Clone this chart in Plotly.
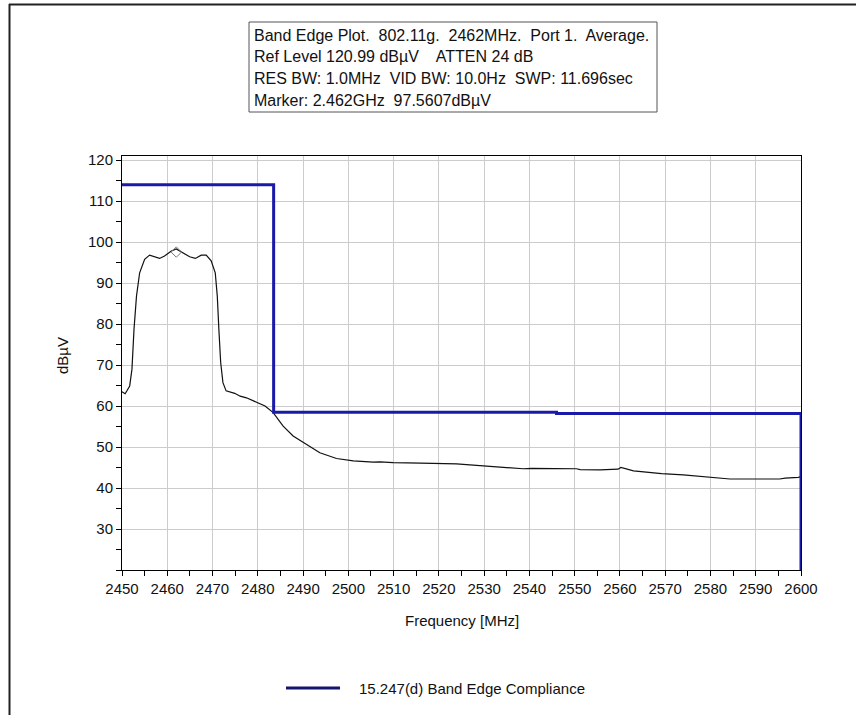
import plotly.graph_objects as go

# Measured trace (frequency in MHz, level in dBuV)
freq_mhz = [2450.0, 2450.7, 2451.7, 2452.2, 2452.65, 2453.2, 2453.9, 2455.0, 2456.1,
            2457.2, 2458.3, 2459.4, 2460.9, 2462.0, 2463.5, 2464.95, 2466.2, 2467.5,
            2468.6, 2469.7, 2470.6, 2471.05, 2471.4, 2471.8, 2472.3, 2473.0, 2474.9,
            2476.1, 2477.5, 2479.0, 2481.6, 2483.4, 2485.6, 2487.8, 2490.8, 2493.7,
            2497.4, 2501.1, 2505.5, 2507.0, 2509.9, 2515.8, 2516.0, 2523.9, 2528.7,
            2535.3, 2538.6, 2540.5, 2550.4, 2551.2, 2555.6, 2559.6, 2560.2, 2563.0,
            2565.9, 2569.2, 2574.0, 2578.8, 2581.7, 2584.3, 2595.3, 2596.5, 2599.4,
            2600.0]
level_dbuv = [63.5, 63.0, 64.9, 69.0, 78.7, 86.8, 92.5, 95.8, 96.8,
              96.4, 96.0, 96.6, 97.8, 98.3, 97.4, 96.4, 96.0, 96.8,
              96.8, 95.4, 92.5, 86.8, 78.7, 70.6, 65.7, 63.7, 63.1,
              62.4, 62.0, 61.2, 60.0, 58.4, 55.1, 52.7, 50.7, 48.6,
              47.2, 46.6, 46.3, 46.4, 46.2, 46.2, 46.05, 45.9, 45.5,
              45.1, 44.7, 44.8, 44.7, 44.5, 44.4, 44.6, 45.0, 44.2,
              43.9, 43.5, 43.2, 42.8, 42.4, 42.2, 42.2, 42.4, 42.6,
              42.8]

# 15.247(d) band edge limit
limit_freq = [2450.0, 2483.5, 2483.5, 2546.0, 2546.0, 2600.0, 2600.0]
limit_level = [114.0, 114.0, 58.5, 58.5, 58.2, 58.2, 20.0]

# Marker
marker_freq = [2462.0]
marker_level = [97.5607]

header_lines = [
    "Band Edge Plot.  802.11g.  2462MHz.  Port 1.  Average.",
    "Ref Level 120.99 dBµV    ATTEN 24 dB",
    "RES BW: 1.0MHz  VID BW: 10.0Hz  SWP: 11.696sec",
    "Marker: 2.462GHz  97.5607dBµV",
]
legend_label = "15.247(d) Band Edge Compliance"

x_ticks = list(range(2450, 2601, 10))
y_ticks = list(range(30, 121, 10))

W, H = 856, 715
L, R, T, B = 122, 801, 156, 570
FONT = "Liberation Sans, Arial, sans-serif"
LIMIT_COLOR = "#1a1aa8"


def px(x):
    return (x - L) / (R - L)


def py(y):
    return (B - y) / (B - T)


fig = go.Figure()
fig.add_trace(go.Scatter(x=freq_mhz, y=level_dbuv, mode="lines",
                         line=dict(color="#111111", width=1.2), showlegend=False,
                         hoverinfo="skip"))
fig.add_trace(go.Scatter(x=limit_freq, y=limit_level, mode="lines",
                         line=dict(color=LIMIT_COLOR, width=3), showlegend=False,
                         name=legend_label))
fig.add_trace(go.Scatter(x=marker_freq, y=marker_level, mode="markers",
                         marker=dict(symbol="diamond-open", size=8,
                                     color="#777777", line=dict(width=1)),
                         showlegend=False))

axis_common = dict(
    showline=True, linecolor="black", linewidth=1, mirror=True,
    ticks="outside", ticklen=5, tickcolor="black",
    showgrid=True, gridcolor="#cccccc", gridwidth=1,
    zeroline=False,
    tickfont=dict(family=FONT, size=15, color="#111111"),
)

fig.update_xaxes(range=[2450, 2600], tickvals=x_ticks,
                 minor=dict(dtick=5, ticks="outside", ticklen=5,
                            tickcolor="black", showgrid=False),
                 **axis_common)
fig.update_yaxes(range=[20, 120.99], tickvals=y_ticks,
                 minor=dict(dtick=5, ticks="outside", ticklen=5,
                            tickcolor="black", showgrid=False),
                 **axis_common)

shapes = [
    # outer frame (top and left edges)
    dict(type="line", xref="paper", yref="paper", x0=px(9), x1=px(W), y0=py(4.5), y1=py(4.5),
         line=dict(color="#222222", width=2)),
    dict(type="line", xref="paper", yref="paper", x0=px(9.5), x1=px(9.5), y0=py(4), y1=py(H),
         line=dict(color="#222222", width=2)),
    # header box
    dict(type="rect", xref="paper", yref="paper", x0=px(249), x1=px(657), y0=py(22), y1=py(112),
         line=dict(color="#555555", width=1), fillcolor="white"),
    # legend sample line
    dict(type="line", xref="paper", yref="paper", x0=px(286), x1=px(340), y0=py(688), y1=py(688),
         line=dict(color="#14146e", width=3)),
]

annotations = []
for i, line in enumerate(header_lines):
    annotations.append(dict(
        text=line, xref="paper", yref="paper", x=px(252), y=py(35 + 21.7 * i),
        xanchor="left", yanchor="middle", showarrow=False,
        font=dict(family=FONT, size=16, color="#111111")))

annotations += [
    dict(text="Frequency [MHz]", xref="paper", yref="paper", x=px(462), y=py(620),
         xanchor="center", yanchor="middle", showarrow=False,
         font=dict(family=FONT, size=15, color="#111111")),
    dict(text="dBµV", xref="paper", yref="paper", x=px(62), y=py(355),
         xanchor="center", yanchor="middle", showarrow=False, textangle=-90,
         font=dict(family=FONT, size=15, color="#111111")),
    dict(text=legend_label, xref="paper", yref="paper", x=px(357), y=py(688),
         xanchor="left", yanchor="middle", showarrow=False,
         font=dict(family=FONT, size=15, color="#111111")),
]

fig.update_layout(
    width=W, height=H,
    margin=dict(l=L, r=W - R, t=T, b=H - B),
    paper_bgcolor="white", plot_bgcolor="white",
    shapes=shapes, annotations=annotations,
    font=dict(family=FONT),
)

fig.write_html("out.html")
